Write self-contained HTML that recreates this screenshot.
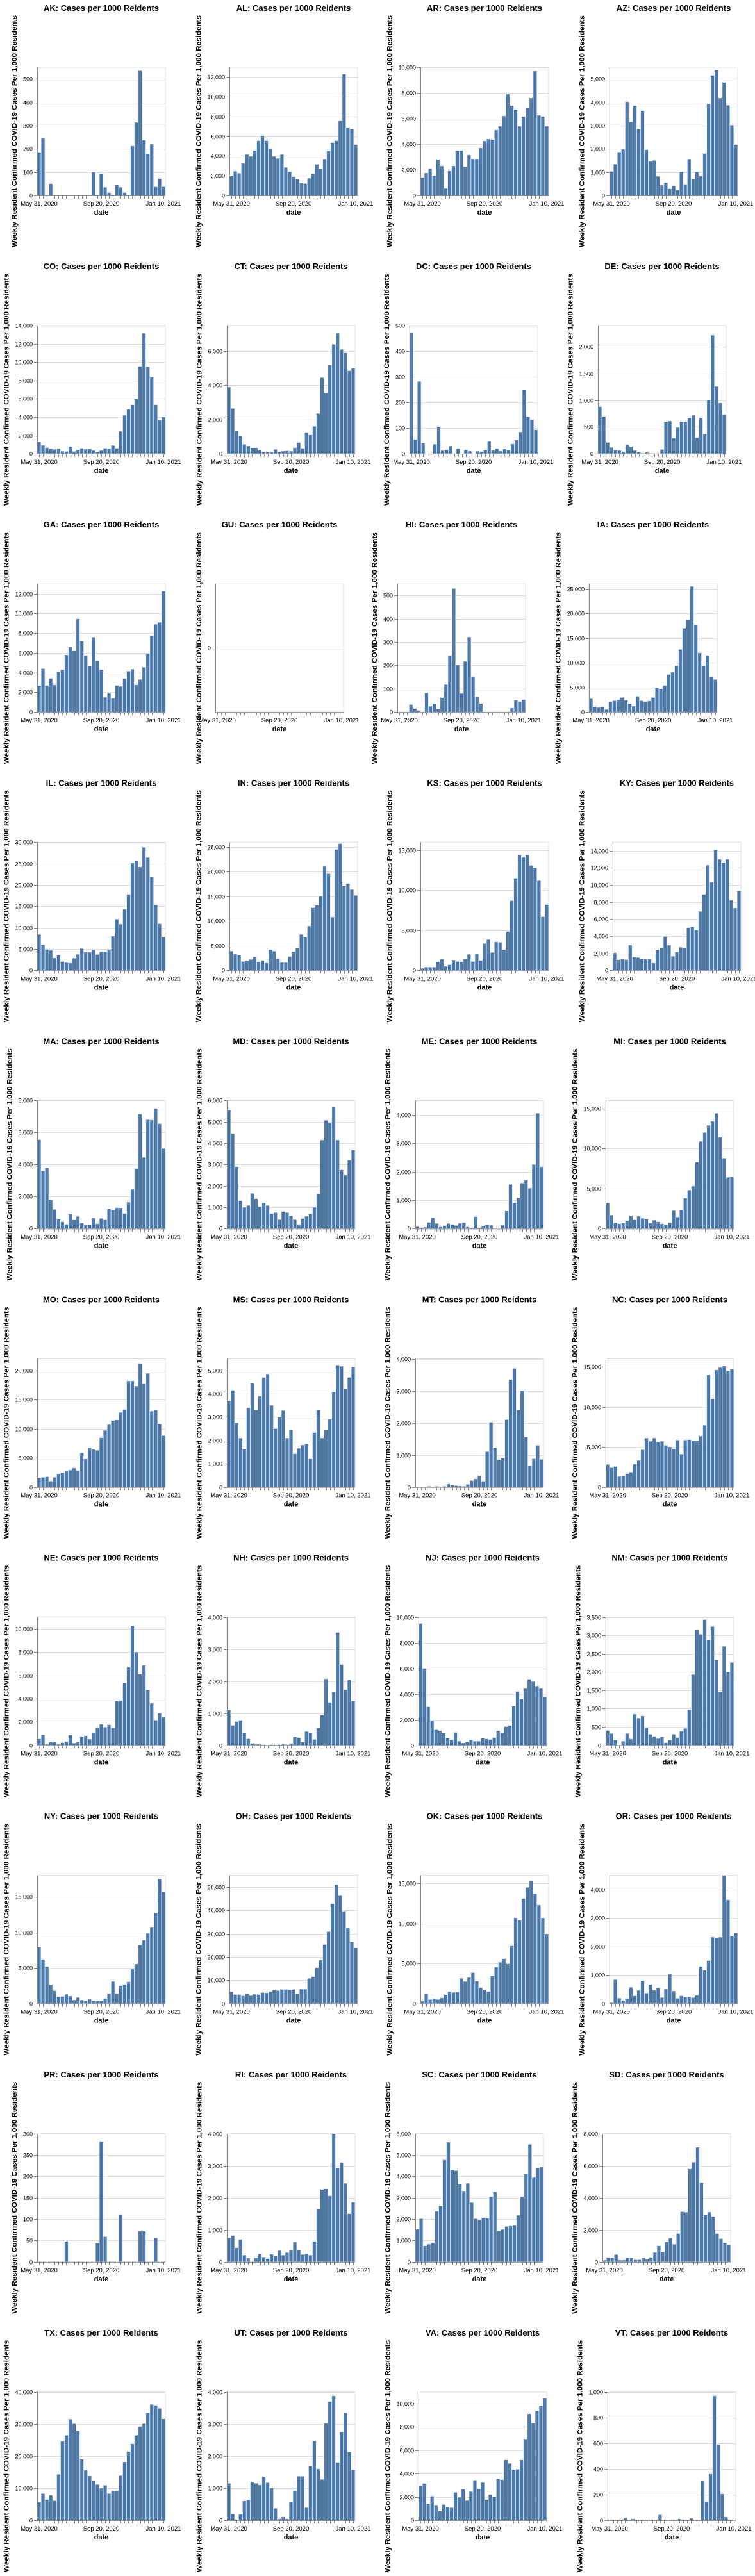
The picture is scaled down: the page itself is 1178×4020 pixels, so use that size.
<!DOCTYPE html>
<html><head><meta charset="utf-8"><title>Cases per 1000 Reidents</title>
<style>
html,body{margin:0;padding:0;background:#fff;}
svg{display:block;}
text{font-family:"Liberation Sans",sans-serif;}
</style></head>
<body>
<svg id="chart" width="1178" height="4020" viewBox="0 0 1178 4020" xmlns="http://www.w3.org/2000/svg"></svg>
<script>
// ---- data ----
const states = ["AK","AL","AR","AZ","CO","CT","DC","DE","GA","GU","HI","IA","IL","IN","KS","KY","MA","MD","ME","MI","MO","MS","MT","NC","NE","NH","NJ","NM","NY","OH","OK","OR","PR","RI","SC","SD","TX","UT","VA","VT"];
const weekLabels = ["May 31, 2020","Sep 20, 2020","Jan 10, 2021"];
const weekLabelIdx = [0,16,32];
const weekCount = 33;
const AK=[185,245,0,50,0,0,0,0,0,0,0,0,0,0,100,0,92,35,12,0,45,35,12,0,212,313,535,237,178,220,37,72,37];
const AL=[2000,2450,2250,3250,4150,3950,4550,5550,6050,5550,4750,3950,3750,4150,2850,2400,1900,1650,1250,1200,1750,2200,3150,2700,3700,4500,5350,5550,7550,12300,6900,6750,5150];
const AR=[1400,1750,2100,1550,2800,2300,550,1900,2300,3500,3500,2250,3150,2850,2850,3700,4250,4400,4350,5100,5400,6200,7900,7000,6700,5400,6150,6850,7600,9700,6250,6150,5400];
const AZ=[1030,1340,1860,1980,4020,3150,3850,2850,3630,1960,1460,1500,820,440,550,280,410,230,1010,480,1560,700,1000,830,1800,3920,5150,5380,4180,4850,3870,3020,2180];
const CO=[1300,900,650,550,480,550,280,250,800,250,400,600,500,500,350,200,350,600,550,900,600,2450,4200,4850,5350,6000,9550,13150,9500,8350,5350,3650,4000];
const CT=[3900,2650,1350,1050,550,450,350,350,200,100,100,80,250,100,150,170,150,350,650,320,1250,1100,1600,2350,4450,3550,5200,6400,7050,6100,5900,4850,5000];
const DC=[472,55,282,42,0,0,37,105,12,15,30,0,20,0,15,10,0,10,8,15,50,13,20,10,18,13,38,53,85,250,145,133,93];
const DE=[880,700,210,120,70,60,40,170,130,60,30,10,25,10,5,5,80,600,610,290,490,600,600,670,720,300,670,370,1000,2220,1260,950,730];
const GA=[2650,4400,2700,3400,2750,4100,4300,5800,6600,6200,9450,7200,5750,4650,7600,5200,4300,1500,1900,1400,2700,2600,3400,4150,4350,2750,3300,4550,5900,7750,8900,9100,12250];
const GU=[0,0,0,0,0,0,0,0,0,0,0,0,0,0,0,0,0,0,0,0,0,0,0,0,0,0,0,0,0,0,0,0,0];
const HI=[0,0,0,32,15,7,0,82,25,35,13,62,118,242,530,202,80,217,322,152,65,37,0,0,0,0,0,0,0,17,51,45,53];
const IA=[2700,1100,900,1000,500,2100,2300,2500,2950,2400,1700,1200,3200,2300,2100,2250,2950,4900,4700,5400,7600,8100,9400,12700,17000,18700,25500,17700,12000,9400,11500,7200,6600];
const IL=[8400,6000,4900,4700,2900,3600,2050,1800,1700,2850,3750,5100,4300,4250,4800,3700,4400,4400,4700,8000,12000,10800,14300,17800,25100,25600,24200,28800,26400,21900,15300,10900,7800];
const IN=[3900,3300,3100,1800,1950,2200,2750,1700,2000,1500,4200,3900,2400,1600,1550,2800,3800,4500,7300,6700,9000,12700,13200,15000,21100,19600,10800,24500,25700,17100,17600,16400,15200];
const KS=[250,400,400,400,1050,1400,500,700,1300,1100,1050,1400,2000,1100,2100,1250,3350,3850,2250,3550,3500,2600,4850,8700,11500,14400,14100,14400,13100,12800,11200,6700,8200];
const KY=[2050,1250,1350,1250,2950,1550,1500,1350,1300,1300,850,2400,2600,3950,2950,1650,2150,2700,2600,5000,5100,4700,6900,8900,12300,10300,14100,13000,12600,13000,8200,7300,9300];
const MA=[5550,3600,3800,1800,1200,600,420,270,900,550,760,350,220,230,660,300,640,550,1230,1170,1300,1300,950,1650,2450,3750,7150,4450,6800,6780,7500,6550,5000];
const MD=[5550,4450,2900,1300,1000,1080,1650,1400,1030,1200,1080,700,750,420,800,750,600,420,200,470,580,700,1000,1620,4150,5070,4950,5700,4150,2750,2500,3200,3680];
const ME=[70,30,50,220,380,180,60,100,180,140,110,190,210,60,30,420,0,100,130,120,0,0,120,620,1550,900,1080,1600,1700,1420,2250,4050,2170];
const MI=[3200,1700,700,600,700,1000,1600,1100,1550,1300,1200,700,1050,850,600,450,750,2250,1450,2350,3800,4800,5300,8300,10900,12000,12900,13400,14400,11400,8800,6400,6450];
const MO=[1600,1650,1750,1000,1650,2150,2450,2700,2900,3250,2800,5850,4800,6700,6450,6300,8450,9700,10700,11400,11500,12800,13300,18200,18200,17300,21200,17700,19500,13000,13200,10800,8800];
const MS=[3700,4150,2750,2100,1620,3400,4450,3300,3900,4700,4850,3500,2500,3000,3280,2100,2440,1420,1660,1800,1850,1200,2330,3300,2100,2440,2900,4080,5230,5180,4200,4700,5150];
const MT=[0,0,0,20,0,20,10,20,90,60,40,30,20,80,200,250,350,180,1100,2020,1230,850,900,2100,3350,3700,2400,3000,1560,660,880,1300,860];
const NC=[2800,2400,2550,1300,1350,1650,1850,2850,3300,4650,6100,5700,6100,5600,5700,5200,5000,4750,5850,4100,5850,5900,5800,5750,6350,7700,14000,11000,14600,14900,15100,14500,14700];
const NE=[550,900,80,270,280,80,220,320,870,180,280,750,820,520,1080,1520,1800,1550,1750,1500,3800,3850,5350,6700,10250,8000,6100,6850,4750,3600,2150,2750,2400];
const NH=[1100,620,740,780,380,200,60,30,30,20,0,20,20,20,30,20,60,260,240,100,430,390,180,540,940,2070,1340,1660,3520,2520,1730,2040,1380];
const NJ=[9500,6000,3000,1920,1250,1130,950,560,420,1000,320,180,260,420,320,320,560,490,440,600,1130,950,1450,1530,3050,4200,3600,4420,5150,4970,4620,4420,3780];
const NM=[400,320,140,0,110,320,170,850,740,800,480,300,240,180,230,70,140,300,210,380,460,970,1930,3150,3030,3430,2870,3240,2330,1460,2700,2000,2260];
const NY=[7900,6200,5200,2650,1800,950,1000,1300,1050,500,850,500,350,600,400,350,350,700,1400,3100,1400,2500,2700,3050,4850,5550,8200,8900,9850,10750,12700,17500,15700];
const OH=[5100,3900,3900,3300,4200,3400,4000,3900,4700,4600,5200,5800,5600,6100,6100,5900,6100,4100,6200,6200,10800,11500,15400,18700,25300,30900,42800,51000,46300,39400,32400,26400,23900];
const OK=[300,1200,500,600,500,700,1100,1500,1400,1450,3150,2750,3250,3850,2800,2000,1700,1500,3450,4550,5150,5600,4950,7200,10700,10400,13100,14500,15300,13700,12300,10700,8700];
const OR=[30,840,190,110,170,570,270,460,800,370,670,470,550,210,510,1030,440,180,270,220,240,210,290,1300,1170,1510,2330,2310,2330,4500,3640,2370,2480];
const PR=[0,0,0,0,0,0,0,48,0,0,0,0,0,0,0,44,282,59,0,0,0,111,0,0,0,0,72,72,0,0,56,0,0];
const RI=[750,820,440,700,210,120,0,120,250,150,100,240,180,350,210,290,360,620,360,230,250,210,640,1640,2260,2280,2060,4000,2920,3100,2450,1500,1860];
const SC=[1530,2020,750,830,900,2370,2620,4770,5600,4300,4270,3630,3320,3680,2780,2020,1960,2070,2040,3050,3270,1450,1520,1660,1680,1700,2180,3050,4120,5500,3950,4380,4440];
const SD=[100,270,260,460,110,110,250,250,130,130,250,170,280,590,1000,620,1240,1490,1100,1770,3130,3100,5800,6220,7150,4950,2930,3110,2830,1760,1450,1190,1060];
const TX=[5600,8300,6400,7800,6100,14300,24600,26500,31500,30100,27900,19000,15600,13800,12300,11100,10000,10900,8300,9200,9200,13900,18200,21400,23800,26500,29200,30100,33500,36100,35800,34900,31600];
const UT=[1150,190,20,180,600,630,1180,1150,1100,1350,1170,1000,370,40,100,40,570,920,1370,1370,390,1690,2470,1600,1270,3020,3700,3880,1800,2750,3350,2130,1570];
const VA=[2930,3150,1420,2060,1300,780,1340,1130,1060,2390,1960,2650,1680,2460,3430,2680,3230,1760,2200,2000,3530,3470,5180,4870,4330,4370,5170,6970,9130,8330,9380,9820,10450];
const VT=[0,0,0,0,20,0,10,0,0,0,0,0,0,42,0,0,0,0,10,0,0,15,0,0,305,145,360,970,590,205,25,0,0];
const seriesByState = {AK,AL,AR,AZ,CO,CT,DC,DE,GA,GU,HI,IA,IL,IN,KS,KY,MA,MD,ME,MI,MO,MS,MT,NC,NE,NH,NJ,NM,NY,OH,OK,OR,PR,RI,SC,SD,TX,UT,VA,VT};

// ---- layout (positions, not data) ----
const rowPlotLefts = [
 [58,358,656,951],[58,354,639,933],[58,336,620,919],[58,358,656,956],[58,354,648,945],
 [58,354,648,945],[58,354,653,945],[58,358,656,951],[58,354,648,940],[58,354,653,948]];
const PW = 200, PH = 200, ROW_PITCH = 403.1, FIRST_TOP = 105;
const BAR = "#4c78a8";

const NS = "http://www.w3.org/2000/svg";
const svg = document.getElementById("chart");
const mctx = document.createElement("canvas").getContext("2d");
mctx.font = "9px 'Liberation Sans', sans-serif";

function mk(tag, attrs, parent){
  const e = document.createElementNS(NS, tag);
  for (const k in attrs) e.setAttribute(k, attrs[k]);
  (parent||svg).appendChild(e);
  return e;
}
function tickStep(start, stop, count){
  const step0 = Math.abs(stop-start)/count;
  let step1 = Math.pow(10, Math.floor(Math.log10(step0)));
  const err = step0/step1;
  if (err >= Math.sqrt(50)) step1 *= 10;
  else if (err >= Math.sqrt(10)) step1 *= 5;
  else if (err >= Math.sqrt(2)) step1 *= 2;
  return step1;
}
function fmt(v){ return v.toLocaleString("en-US"); }

states.forEach((st, i) => {
  const vals = seriesByState[st];
  const row = Math.floor(i/4), col = i%4;
  const L = rowPlotLefts[row][col];
  const T = FIRST_TOP + row*ROW_PITCH;
  const B = T + PH;
  const g = mk("g", {});
  
  

  const maxV = Math.max(...vals);
  let top, ticks, y;
  if (maxV <= 0) {
    top = 0; ticks = [0];
    y = v => T + PH/2;
  } else {
    const s10 = tickStep(0, maxV, 10);
    top = Math.ceil(maxV/s10)*s10;
    const s5 = tickStep(0, top, 5);
    ticks = [];
    for (let t = 0; t <= top + 1e-9; t += s5) ticks.push(t);
    y = v => B - v/top*PH;
  }
  const band = PW/weekCount;
  const x = k => L + k*band;

  const vb = mk("rect", {x:L, y:T, width:PW, height:PH, fill:"none", stroke:"#ddd", "stroke-width":1}, g);
  
  
  let maxLW = 0;
  ticks.forEach(t => {
    const yy = Math.round(y(t))+0.5;
    const gl = mk("line", {x1:L, x2:L+PW, y1:yy, y2:yy, stroke:"#ddd", "stroke-width":1}, g);
    
    
  });
  vals.forEach((v, k) => {
    if (v <= 0 || top <= 0) return;
    const r = mk("rect", {x:(x(k)+band*0.05).toFixed(2), y:y(v).toFixed(2), width:(band*0.9).toFixed(2), height:(B-y(v)).toFixed(2), fill:BAR, stroke:"#c8d6e8", "stroke-width":0.5}, g);
    
    
  });
  const ya = mk("g", {}, g);
  
  
  mk("line", {x1:L+0.5, x2:L+0.5, y1:T, y2:B, stroke:"#888", "stroke-width":1}, ya);
  ticks.forEach(t => {
    const yy = Math.round(y(t))+0.5;
    mk("line", {x1:L-5, x2:L, y1:yy, y2:yy, stroke:"#888", "stroke-width":1}, ya);
    const lab = mk("text", {x:L-7, y:yy+3.2, "font-size":9, "text-anchor":"end", fill:"#000"}, ya);
    lab.textContent = fmt(t);
    
    
    maxLW = Math.max(maxLW, mctx.measureText(fmt(t)).width);
  });
  const xa = mk("g", {}, g);
  
  
  mk("line", {x1:L, x2:L+PW, y1:B+0.5, y2:B+0.5, stroke:"#888", "stroke-width":1}, xa);
  for (let k = 0; k < weekCount; k++) {
    const cx = Math.round(x(k)+band/2)+0.5;
    mk("line", {x1:cx, x2:cx, y1:B, y2:B+5, stroke:"#888", "stroke-width":1}, xa);
  }
  weekLabelIdx.forEach((k, j) => {
    const lab = mk("text", {x:x(k)+band/2, y:B+16, "font-size":9.5, "text-anchor":"middle", fill:"#000"}, xa);
    lab.textContent = weekLabels[j];
    
    
  });
  const xt = mk("text", {x:L+PW/2, y:B+30, "font-size":11, "font-weight":"bold", "text-anchor":"middle", fill:"#000"}, g);
  xt.textContent = "date";
  
  
  const ytx = L - maxLW - 17, yty = T + PH/2;
  const yt = mk("text", {x:0, y:0, "font-size":11, "font-weight":"bold", "text-anchor":"middle", transform:`translate(${ytx.toFixed(1)},${yty}) rotate(-90)`, fill:"#000", textLength:362, lengthAdjust:"spacingAndGlyphs"}, g);
  yt.textContent = "Weekly Resident Confirmed COVID-19 Cases Per 1,000 Residents";
  
  
  const tt = mk("text", {x:L+PW/2, y:T-88, "font-size":13, "font-weight":"bold", "text-anchor":"middle", fill:"#000"}, g);
  tt.textContent = st + ": Cases per 1000 Reidents";
  
  
});
</script>
</body></html>
